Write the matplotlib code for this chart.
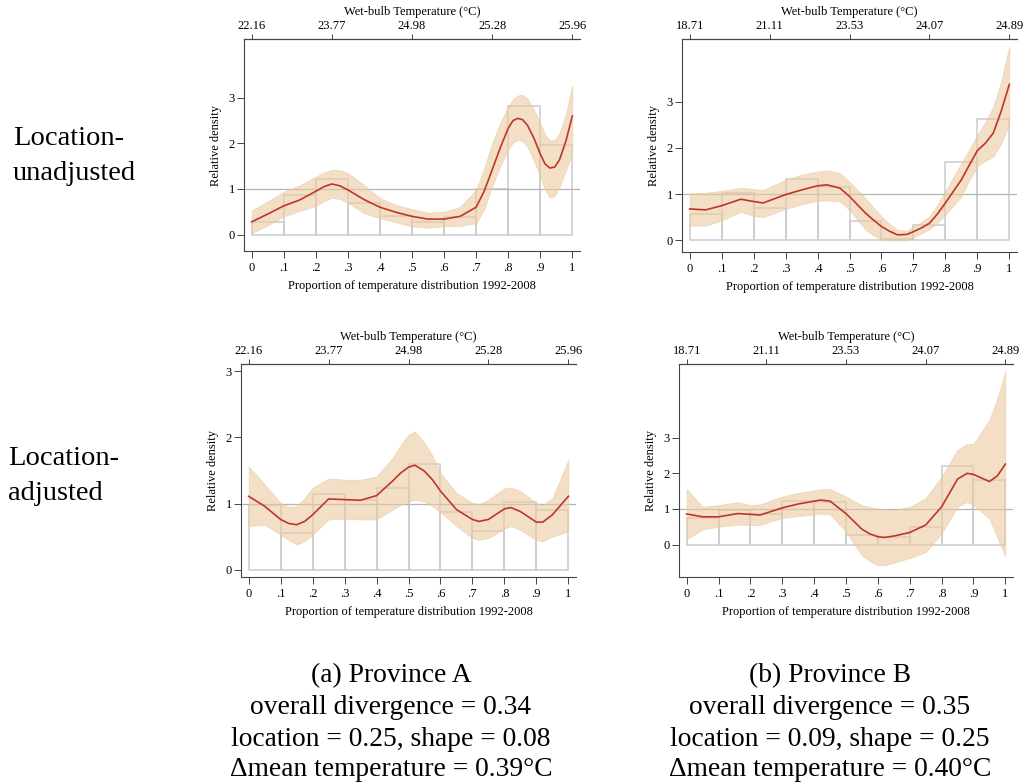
import matplotlib
matplotlib.use("Agg")
import matplotlib.pyplot as plt

plt.rcParams['font.family'] = ['Liberation Serif', 'DejaVu Serif']

# ---------------- data ----------------
bin_edges = [0.0, 0.1, 0.2, 0.3, 0.4, 0.5, 0.6, 0.7, 0.8, 0.9]
bottom_ticks = [0, 0.1, 0.2, 0.3, 0.4, 0.5, 0.6, 0.7, 0.8, 0.9, 1.0]
bottom_ticklabels = ['0', '.1', '.2', '.3', '.4', '.5', '.6', '.7', '.8', '.9', '1']
top_ticks = [0, 0.25, 0.5, 0.75, 1.0]
temps_A = ['22.16', '23.77', '24.98', '25.28', '25.96']
temps_B = ['18.71', '21.11', '23.53', '24.07', '24.89']

# Province A, location-unadjusted
hist_A_un = [0.27, 0.86, 1.21, 0.69, 0.41, 0.27, 0.38, 1.0, 2.83, 1.97]
x_A_un = [0, .05, .1, .15, .2, .225, .25, .275, .3, .35, .4, .45, .5, .55, .6, .65, .7, .725, .75, .775,
          .8, .815, .83, .845, .86, .88, .9, .915, .93, .945, .96, .98, 1]
dens_A_un = [0.28, 0.45, 0.63, 0.76, 0.95, 1.05, 1.11, 1.07, 0.98, 0.77, 0.6, 0.49, 0.4, 0.34, 0.34, 0.4,
             0.6, 0.95, 1.42, 1.9, 2.33, 2.5, 2.55, 2.52, 2.4, 2.12, 1.77, 1.55, 1.46, 1.48, 1.64, 2.05, 2.6]
hi_A_un = [0.53, 0.73, 0.94, 1.08, 1.27, 1.36, 1.42, 1.41, 1.35, 1.09, 0.8, 0.65, 0.56, 0.48, 0.5, 0.61,
           0.98, 1.45, 2.0, 2.45, 2.81, 2.97, 3.05, 3.07, 2.98, 2.75, 2.44, 2.2, 2.06, 2.08, 2.22, 2.65, 3.27]
lo_A_un = [0.03, 0.2, 0.4, 0.52, 0.63, 0.73, 0.81, 0.78, 0.7, 0.47, 0.36, 0.27, 0.18, 0.15, 0.18, 0.19,
           0.25, 0.55, 1.05, 1.5, 1.86, 2.02, 2.08, 2.05, 1.93, 1.62, 1.27, 0.98, 0.81, 0.85, 1.05, 1.4, 1.78]

# Province B, location-unadjusted
hist_B_un = [0.57, 1.02, 0.69, 1.32, 1.15, 0.42, 0.02, 0.33, 1.69, 2.63]
x_B_un = [0, .05, .1, .16, .2, .23, .3, .35, .4, .43, .47, .5, .55, .575, .6, .625, .65, .68, .7, .725,
          .75, .775, .8, .825, .85, .875, .9, .925, .95, .975, 1]
dens_B_un = [0.68, 0.66, 0.75, 0.89, 0.84, 0.81, 0.99, 1.09, 1.18, 1.2, 1.13, 0.95, 0.59, 0.44, 0.3, 0.2,
             0.12, 0.13, 0.19, 0.27, 0.37, 0.57, 0.81, 1.06, 1.31, 1.63, 1.94, 2.1, 2.32, 2.8, 3.37]
hi_B_un = [1.02, 1.03, 1.07, 1.14, 1.11, 1.09, 1.31, 1.42, 1.49, 1.51, 1.45, 1.27, 0.91, 0.71, 0.52, 0.36,
           0.23, 0.21, 0.3, 0.4, 0.52, 0.77, 1.06, 1.37, 1.67, 1.97, 2.28, 2.55, 2.89, 3.45, 4.19]
lo_B_un = [0.32, 0.32, 0.43, 0.62, 0.53, 0.5, 0.68, 0.78, 0.86, 0.86, 0.84, 0.66, 0.23, 0.11, 0.03, 0.0,
           0.0, 0.0, 0.07, 0.15, 0.24, 0.38, 0.55, 0.75, 0.95, 1.3, 1.6, 1.72, 1.81, 2.1, 2.52]

# Province A, location-adjusted
hist_A_adj = [0.98, 0.56, 1.14, 1.05, 1.24, 1.6, 0.87, 0.58, 1.02, 0.9]
x_A_adj = [0, .05, .1, .125, .15, .175, .2, .25, .3, .35, .4, .45, .475, .5, .52, .55, .575, .6, .65, .7,
           .72, .75, .8, .82, .85, .9, .92, .95, 1]
dens_A_adj = [1.11, 0.96, 0.76, 0.7, 0.68, 0.73, 0.83, 1.07, 1.06, 1.05, 1.12, 1.34, 1.46, 1.55, 1.58,
              1.49, 1.36, 1.19, 0.91, 0.76, 0.73, 0.76, 0.92, 0.94, 0.88, 0.72, 0.72, 0.83, 1.11]
hi_A_adj = [1.56, 1.29, 1.01, 0.95, 0.96, 1.08, 1.24, 1.38, 1.36, 1.36, 1.41, 1.69, 1.88, 2.04, 2.09,
            1.92, 1.72, 1.46, 1.16, 1.01, 0.99, 1.06, 1.23, 1.24, 1.19, 1.01, 0.98, 1.08, 1.66]
lo_A_adj = [0.66, 0.68, 0.53, 0.45, 0.38, 0.43, 0.53, 0.76, 0.77, 0.76, 0.76, 0.91, 0.98, 1.03, 1.06,
            1.03, 0.96, 0.87, 0.66, 0.48, 0.45, 0.48, 0.62, 0.66, 0.6, 0.45, 0.43, 0.5, 0.58]

# Province B, location-adjusted
hist_B_adj = [0.76, 0.96, 0.85, 1.23, 1.19, 0.28, 0.2, 0.49, 2.2, 1.81]
x_B_adj = [0, .05, .1, .16, .2, .23, .3, .35, .42, .45, .5, .525, .55, .575, .6, .62, .65, .7, .75, .8,
           .85, .88, .9, .95, .975, 1]
dens_B_adj = [0.86, 0.78, 0.78, 0.87, 0.85, 0.83, 1.03, 1.14, 1.25, 1.22, 0.87, 0.65, 0.43, 0.3, 0.22,
              0.2, 0.24, 0.34, 0.55, 1.06, 1.84, 2.0, 1.97, 1.77, 1.93, 2.26]
hi_B_adj = [1.56, 1.06, 1.11, 1.19, 1.11, 1.13, 1.35, 1.45, 1.55, 1.56, 1.35, 1.22, 1.11, 1.05, 1.0,
            0.99, 0.97, 1.06, 1.3, 1.91, 2.66, 2.83, 2.83, 3.5, 4.1, 4.87]
lo_B_adj = [0.15, 0.43, 0.5, 0.56, 0.55, 0.55, 0.75, 0.8, 0.87, 0.85, 0.36, 0.02, -0.3, -0.47, -0.58,
            -0.58, -0.51, -0.38, -0.21, 0.31, 1.06, 1.2, 1.11, 0.73, 0.2, -0.33]

captions_A = ['(a) Province A', 'overall divergence = 0.34', 'location = 0.25, shape = 0.08',
              '\u0394mean temperature = 0.39\u00b0C']
captions_B = ['(b) Province B', 'overall divergence = 0.35', 'location = 0.09, shape = 0.25',
              '\u0394mean temperature = 0.40\u00b0C']

# ---------------- figure ----------------
W, H = 1024, 783
fig = plt.figure(figsize=(W / 100, H / 100), dpi=100)


def rect(l, t, r, b):
    return [l / W, 1 - b / H, (r - l) / W, (b - t) / H]


panels = [
    (rect(244, 39, 580, 251), (-0.36, 4.29), hist_A_un, x_A_un, dens_A_un, hi_A_un, lo_A_un, temps_A),
    (rect(682, 39, 1017, 252), (-0.25, 4.35), hist_B_un, x_B_un, dens_B_un, hi_B_un, lo_B_un, temps_B),
    (rect(241, 364, 576, 577), (-0.11, 3.11), hist_A_adj, x_A_adj, dens_A_adj, hi_A_adj, lo_A_adj, temps_A),
    (rect(679, 364, 1013, 577), (-0.91, 5.07), hist_B_adj, x_B_adj, dens_B_adj, hi_B_adj, lo_B_adj, temps_B),
]

FS = 9.0
spine_c = '#444444'
for pos, ylim, hist, xs, dens, hi, lo, temps in panels:
    ax = fig.add_axes(pos)
    ax.bar(bin_edges, hist, width=0.1, align='edge', fill=False,
           edgecolor='#cccccc', linewidth=1.1, zorder=1)
    ax.axhline(1, color='#b4b4b4', linewidth=0.9, zorder=1.5)
    ax.fill_between(xs, lo, hi, color='#EBCAA0', alpha=0.6, linewidth=0.6,
                    edgecolor='#E8C9A0', zorder=2)
    ax.plot(xs, dens, color='#C0352A', linewidth=1.2, zorder=3,
            solid_joinstyle='round')
    ax.set_xlim(-0.024, 1.024)
    ax.set_ylim(*ylim)
    ax.set_xticks(bottom_ticks)
    ax.set_xticklabels(bottom_ticklabels, fontsize=FS)
    ax.set_yticks([0, 1, 2, 3])
    ax.set_yticklabels(['0', '1', '2', '3'], fontsize=FS)
    ax.tick_params(axis='x', length=5, width=0.7, color=spine_c, pad=3)
    ax.tick_params(axis='y', length=5, width=0.7, color=spine_c, pad=1.5)
    ax.set_xlabel('Proportion of temperature distribution 1992-2008', fontsize=FS, labelpad=4)
    ax.set_ylabel('Relative density', fontsize=FS, labelpad=5)
    for s in ['left', 'bottom', 'top']:
        ax.spines[s].set_color(spine_c)
        ax.spines[s].set_linewidth(0.8)
    ax.spines['right'].set_visible(False)
    sec = ax.secondary_xaxis('top')
    sec.set_xticks(top_ticks)
    sec.set_xticklabels(temps, fontsize=FS)
    sec.tick_params(axis='x', length=3.5, width=0.7, color=spine_c, pad=1.5)
    sec.spines['top'].set_color(spine_c)
    sec.spines['top'].set_linewidth(0.8)
    sec.set_xlabel('Wet-bulb Temperature (\u00b0C)', fontsize=FS, labelpad=3.5)

# row labels
RFS = 20.5
fig.text(13 / W, 1 - 145 / H, 'Location-', fontsize=RFS, ha='left', va='baseline')
fig.text(13 / W, 1 - 180 / H, 'unadjusted', fontsize=RFS, ha='left', va='baseline')
fig.text(8 / W, 1 - 465 / H, 'Location-', fontsize=RFS, ha='left', va='baseline')
fig.text(8 / W, 1 - 500 / H, 'adjusted', fontsize=RFS, ha='left', va='baseline')

# captions
CFS = 19.8
baselines = [682, 714, 746, 776]
for txt, yb in zip(captions_A, baselines):
    fig.text(391 / W, 1 - yb / H, txt, fontsize=CFS, ha='center', va='baseline')
for txt, yb in zip(captions_B, baselines):
    fig.text(830 / W, 1 - yb / H, txt, fontsize=CFS, ha='center', va='baseline')

fig.savefig('out.png', dpi=100)
